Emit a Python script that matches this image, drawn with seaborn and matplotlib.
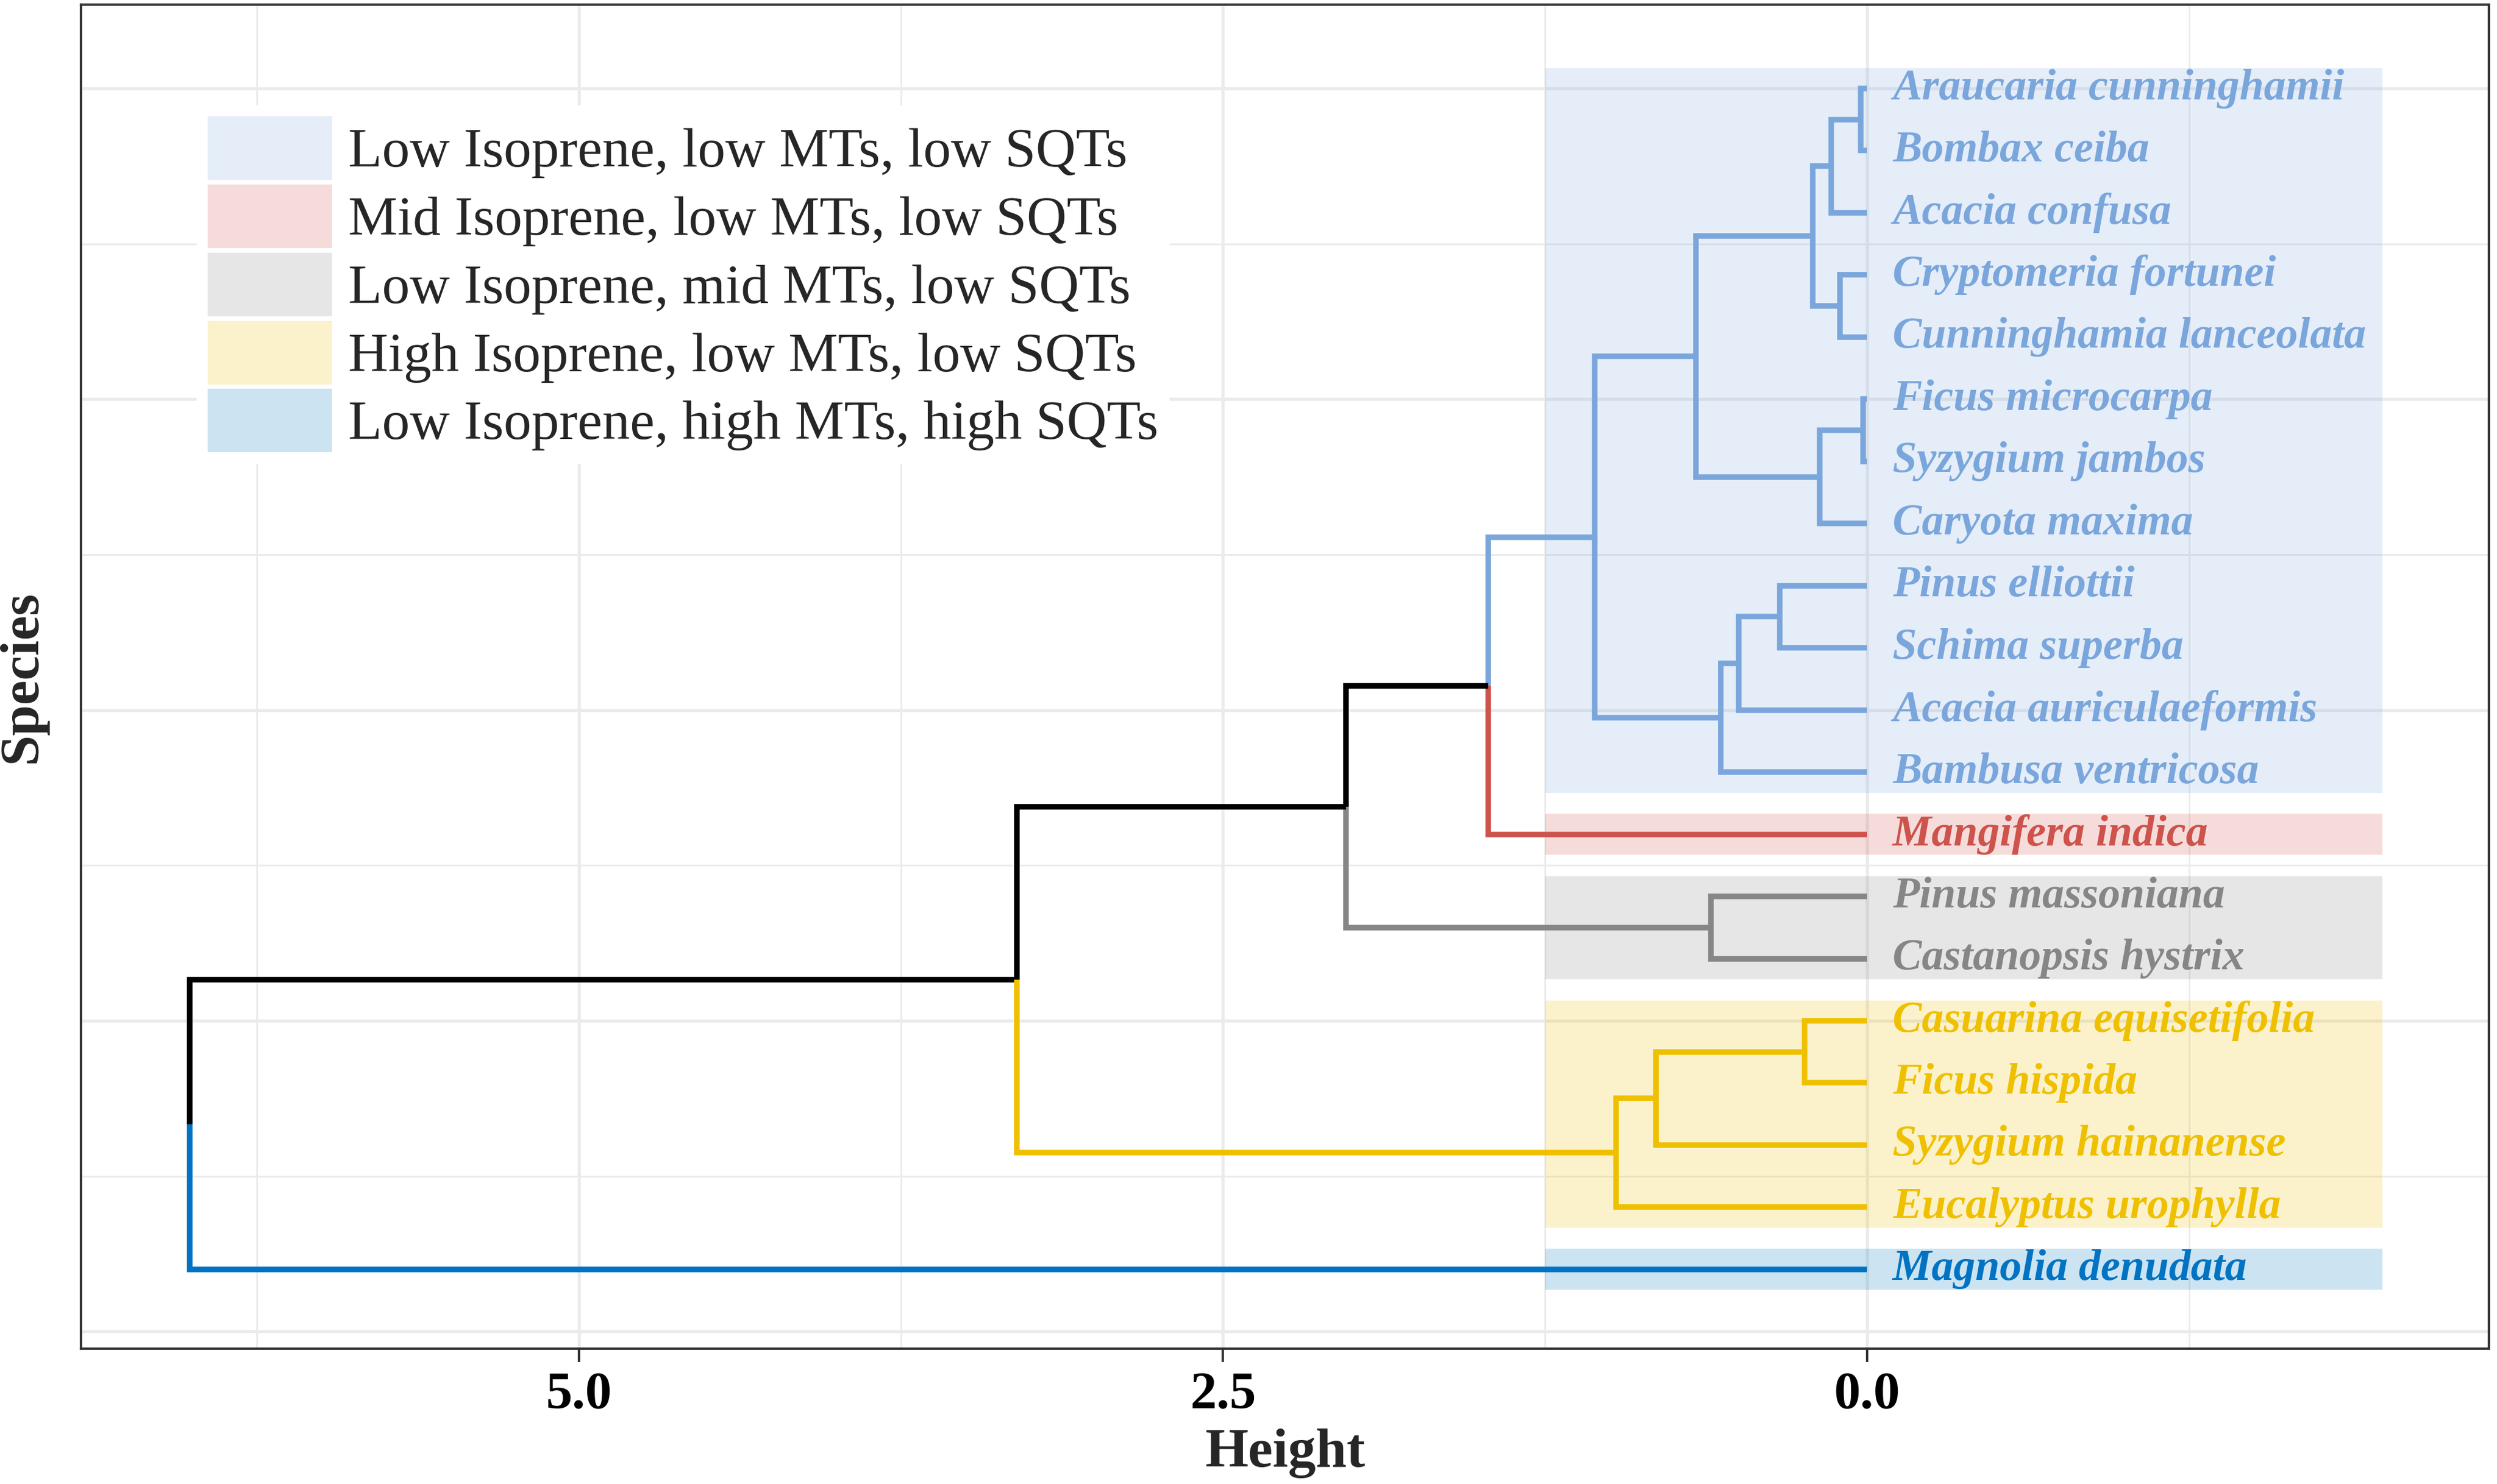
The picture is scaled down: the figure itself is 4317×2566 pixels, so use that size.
import matplotlib
matplotlib.use("Agg")
import matplotlib.pyplot as plt
from matplotlib.patches import Patch
import pandas as pd
import seaborn as sns

# leaves in plotting order, top to bottom
leaves = ["Araucaria cunninghamii", "Bombax ceiba", "Acacia confusa", "Cryptomeria fortunei",
          "Cunninghamia lanceolata", "Ficus microcarpa", "Syzygium jambos", "Caryota maxima",
          "Pinus elliottii", "Schima superba", "Acacia auriculaeformis", "Bambusa ventricosa",
          "Mangifera indica", "Pinus massoniana", "Castanopsis hystrix",
          "Casuarina equisetifolia", "Ficus hispida", "Syzygium hainanense",
          "Eucalyptus urophylla", "Magnolia denudata"]
leaf_group = [0] * 12 + [1] + [2, 2] + [3, 3, 3, 3] + [4]

group_labels = ["Low Isoprene, low MTs, low SQTs",
                "Mid Isoprene, low MTs, low SQTs",
                "Low Isoprene, mid MTs, low SQTs",
                "High Isoprene, low MTs, low SQTs",
                "Low Isoprene, high MTs, high SQTs"]
group_colors = ["#7AA6DC", "#CD534C", "#868686", "#EFC000", "#0073C2"]

# merges (like hclust), node k is named "n{k+1}"
merge_left = ["Araucaria cunninghamii", "n1", "Cryptomeria fortunei", "n2",
              "Ficus microcarpa", "n5", "n4", "Pinus elliottii", "n8", "n9",
              "n7", "n11", "Pinus massoniana", "n12",
              "Casuarina equisetifolia", "n15", "n16", "n14", "n18"]
merge_right = ["Bombax ceiba", "Acacia confusa", "Cunninghamia lanceolata", "n3",
               "Syzygium jambos", "Caryota maxima", "n6", "Schima superba",
               "Acacia auriculaeformis", "Bambusa ventricosa",
               "n10", "Mangifera indica", "Castanopsis hystrix", "n13",
               "Ficus hispida", "Syzygium hainanense", "Eucalyptus urophylla", "n17",
               "Magnolia denudata"]
merge_height = [0.025, 0.14, 0.105, 0.21, 0.015, 0.185, 0.665, 0.338, 0.498, 0.567,
                1.057, 1.47, 0.605, 2.022, 0.242, 0.82, 0.975, 3.30, 6.51]

# ---- build the tree layout
pos, hgt, grp = {}, {}, {}
n = len(leaves)
for i, name in enumerate(leaves):
    pos[name] = n - i
    hgt[name] = 0.0
    grp[name] = {leaf_group[i]}

rows = []
seg = 0
for k, (l, r, h) in enumerate(zip(merge_left, merge_right, merge_height)):
    node = f"n{k + 1}"
    pos[node] = (pos[l] + pos[r]) / 2
    hgt[node] = h
    grp[node] = grp[l] | grp[r]
    for c in (l, r):
        col = group_colors[list(grp[c])[0]] if len(grp[c]) == 1 else "#000000"
        for x, y in [(h, pos[node]), (h, pos[c]), (hgt[c], pos[c])]:
            rows.append({"seg": seg, "x": x, "y": y, "colour": col})
        seg += 1
seg_df = pd.DataFrame(rows)

# ---- plot
sns.set_theme(style="whitegrid")
plt.rcParams["font.family"] = ["Liberation Serif", "DejaVu Serif"]

fig = plt.figure(figsize=(4317 / 300, 2566 / 300), dpi=300)
ax = fig.add_axes([0.0324, 0.0912, 0.9968 - 0.0324, 0.9969 - 0.0912])

# group background bands
for g, col in enumerate(group_colors):
    ys = [pos[leaves[i]] for i in range(n) if leaf_group[i] == g]
    y0, y1 = min(ys) - 0.33, max(ys) + 0.33
    ax.barh(y=(y0 + y1) / 2, width=-2.0 - 1.25, left=1.25, height=y1 - y0,
            color=col, alpha=0.2, linewidth=0, zorder=1)

palette = {c: c for c in seg_df["colour"].unique()}
sns.lineplot(data=seg_df, x="x", y="y", units="seg", hue="colour", palette=palette,
             estimator=None, sort=False, legend=False, linewidth=2.3, ax=ax,
             solid_capstyle="butt", solid_joinstyle="miter", zorder=3)

for i, name in enumerate(leaves):
    ax.text(-0.1, pos[name], name, color=group_colors[leaf_group[i]], fontsize=18.2,
            fontstyle="italic", fontweight="bold", ha="left", va="center", zorder=4)

ax.set_xlim(6.933, -2.414)
ax.set_ylim(-0.276, 21.35)
ax.set_xticks([5.0, 2.5, 0.0])
ax.set_xticklabels(["5.0", "2.5", "0.0"], fontsize=22, fontweight="bold", color="black")
ax.set_xticks([6.25, 3.75, 1.25, -1.25], minor=True)
ax.set_yticks([0, 5, 10, 15, 20])
ax.set_yticks([2.5, 7.5, 12.5, 17.5], minor=True)
ax.tick_params(axis="x", which="major", bottom=True, direction="out", length=5.5,
               width=1.0, color="#333333", pad=4)
ax.tick_params(axis="x", which="minor", bottom=False)
ax.tick_params(axis="y", which="both", left=False, labelleft=False)
ax.grid(which="major", color="#EBEBEB", linewidth=1.3)
ax.grid(which="minor", color="#EBEBEB", linewidth=0.7)
ax.set_axisbelow(True)
for sp in ax.spines.values():
    sp.set_color("#333333")
    sp.set_linewidth(1.0)

ax.set_xlabel("Height", fontsize=23, fontweight="bold", labelpad=4)
ax.set_ylabel("Species", fontsize=23, fontweight="bold", labelpad=14)

handles = [Patch(facecolor=c, alpha=0.2, edgecolor="none") for c in group_colors]
leg = ax.legend(handles, group_labels, loc="upper left", bbox_to_anchor=(0.048, 0.925),
                borderaxespad=0, fontsize=23, frameon=True, fancybox=False,
                facecolor="white", edgecolor="none", framealpha=1, borderpad=0.2,
                handlelength=2.24, handleheight=1.39, labelspacing=0.08, handletextpad=0.3)
leg.set_zorder(5)

fig.savefig("out.png", dpi=300)
